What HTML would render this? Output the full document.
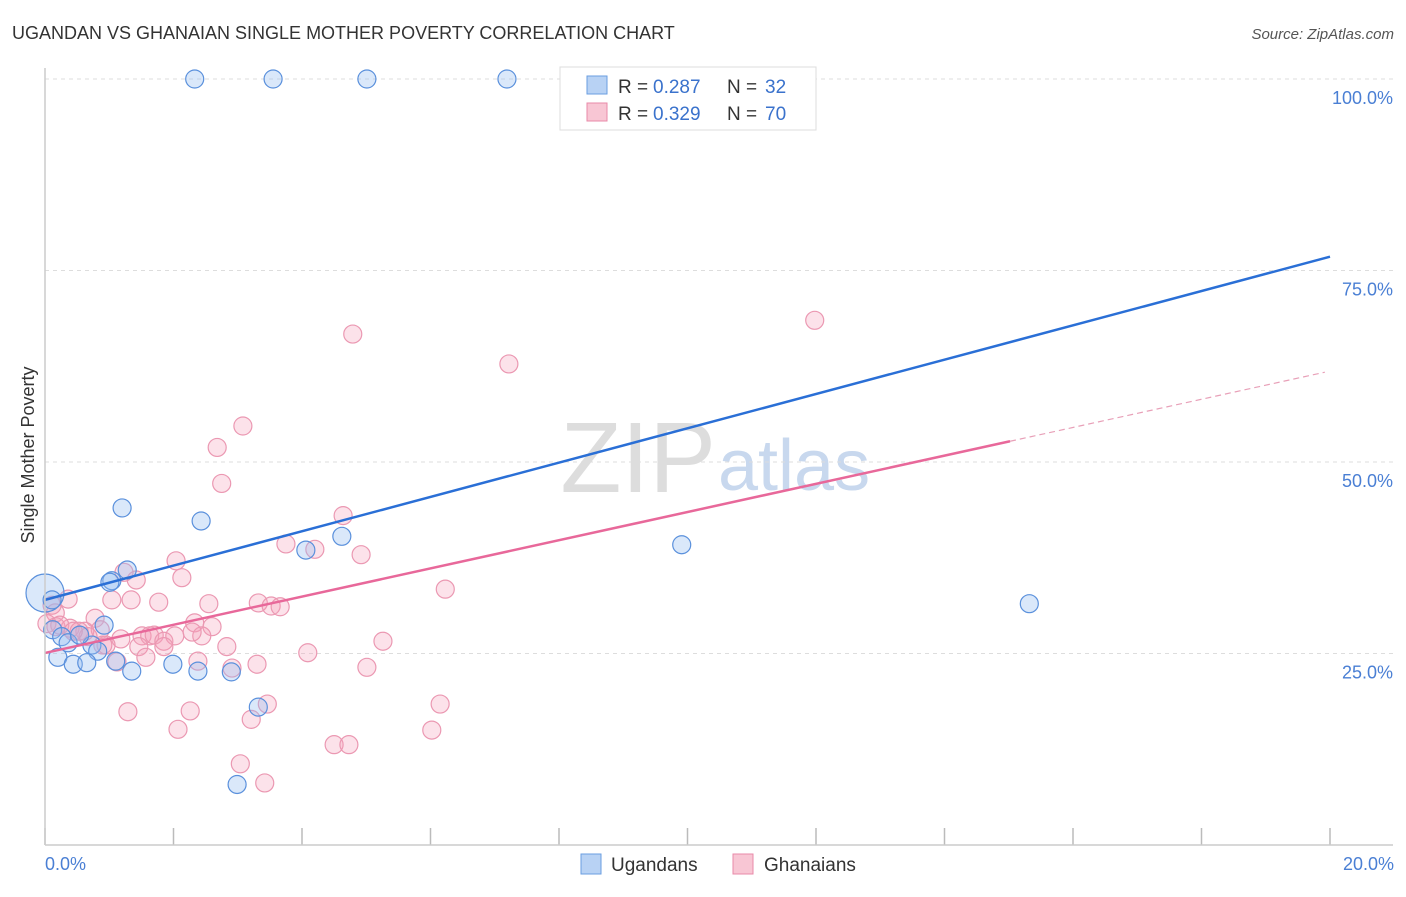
<!DOCTYPE html>
<html><head><meta charset="utf-8"><style>
body{margin:0;background:#fff;font-family:"Liberation Sans",sans-serif;}
svg text{font-family:"Liberation Sans",sans-serif;}
</style></head><body>
<svg id="chart" width="1406" height="892">
<text x="12" y="39" font-size="18" fill="#333">UGANDAN VS GHANAIAN SINGLE MOTHER POVERTY CORRELATION CHART</text>
<text x="1394" y="39" font-size="15" fill="#555" font-style="italic" text-anchor="end">Source: ZipAtlas.com</text>
<text x="716" y="492" font-size="100" fill="#ddd" text-anchor="end" font-family="Liberation Serif">ZIP</text>
<text x="718" y="490" font-size="72" fill="#c8d8ee">atlas</text>
<text x="34" y="455" font-size="18" fill="#333" transform="rotate(-90 34 455)" text-anchor="middle">Single Mother Poverty</text>
<g id="grid"></g><g id="ticks"></g><g id="marks"></g><g id="lines"></g>
<line x1="45" y1="68" x2="45" y2="845" stroke="#ccc" stroke-width="1.5"/>
<line x1="45" y1="845" x2="1393" y2="845" stroke="#ccc" stroke-width="1.5"/>
<text x="45" y="870" font-size="18" fill="#4a7fd4">0.0%</text>
<text x="1394" y="870" font-size="18" fill="#4a7fd4" text-anchor="end">20.0%</text>
<g>
<rect x="560" y="67" width="256" height="63" fill="#fff" stroke="#ddd"/>
<rect x="587" y="76" width="20" height="18" fill="#b8d2f4" stroke="#6a9ee0"/>
<rect x="587" y="103" width="20" height="18" fill="#f8c6d4" stroke="#e88aa8"/>
<text x="618" y="93" font-size="19" fill="#333">R =</text>
<text x="653" y="93" font-size="19" fill="#3a72cc">0.287</text>
<text x="727" y="93" font-size="19" fill="#333">N =</text>
<text x="765" y="93" font-size="19" fill="#3a72cc">32</text>
<text x="618" y="120" font-size="19" fill="#333">R =</text>
<text x="653" y="120" font-size="19" fill="#3a72cc">0.329</text>
<text x="727" y="120" font-size="19" fill="#333">N =</text>
<text x="765" y="120" font-size="19" fill="#3a72cc">70</text>
</g>
<g>
<rect x="581" y="854" width="20" height="20" fill="#b8d2f4" stroke="#6a9ee0"/>
<text x="611" y="871" font-size="19" fill="#333">Ugandans</text>
<rect x="733" y="854" width="20" height="20" fill="#f8c6d4" stroke="#e88aa8"/>
<text x="764" y="871" font-size="19" fill="#333">Ghanaians</text>
</g>
</svg>
<script>
const yTicks=[25,50,75,100];
const yTickLabels=["25.0%","50.0%","75.0%","100.0%"];
const xTicks=[0,2,4,6,8,10,12,14,16,18,20];
const ugX=[2.33,3.55,5.01,7.19,1.20,2.43,4.62,4.06,9.91,15.32,1.28,1.04,0,0.11,0.12,0.26,0.92,0.73,0.82,0.20,0.44,0.65,1.10,1.35,1.99,2.38,2.90,3.32,2.99,1.01,0.36,0.54];
const ugY=[100,100,100,100,44.0,42.3,40.3,38.5,39.2,31.5,35.9,34.5,32.9,32.0,28.1,27.2,28.7,26.1,25.3,24.5,23.6,23.8,24.0,22.7,23.6,22.7,22.6,18.0,7.9,34.3,26.4,27.4];
const ugR=[8,8,8,8,8,8,8,8,8,8,8,8,18,8,8,8,8,8,8,8,8,8,8,8,8,8,8,8,8,8,8,8];
const ghX=[11.98,4.79,7.22,3.08,2.68,2.75,4.64,3.75,4.20,4.92,2.04,2.13,1.42,1.23,6.23,1.04,1.34,1.77,2.55,3.32,3.52,3.66,0.36,0.11,0.16,0.78,0.03,0.17,0.39,0.62,0.86,1.18,1.51,1.63,1.70,1.85,2.02,2.33,2.60,2.44,2.29,1.46,1.57,1.85,1.12,2.83,4.09,5.26,3.30,2.38,2.91,5.01,1.29,2.26,6.15,3.46,2.07,3.21,6.02,4.50,4.73,3.04,3.42,0.53,0.67,0.95,0.23,0.44,0.90];
const ghY=[68.5,66.7,62.8,54.7,51.9,47.2,43.0,39.3,38.6,37.9,37.1,34.9,34.6,35.6,33.4,32.0,32.0,31.7,31.5,31.6,31.2,31.1,32.1,31.3,30.3,29.6,28.9,28.5,28.3,27.9,28.1,26.9,27.3,27.3,27.4,26.6,27.3,29.0,28.5,27.3,27.8,25.9,24.5,25.9,23.9,25.9,25.1,26.6,23.6,24.0,23.1,23.2,17.4,17.5,18.4,18.4,15.1,16.4,15.0,13.1,13.1,10.6,8.1,27.9,27.2,26.1,28.7,27.9,26.1];
const blueTrend=[32.0,76.8];
const pinkTrend=[25.07,1.84];
const X0=45,X1=1330,Y0=845,Y100=79;
const sx=v=>X0+(X1-X0)*v/20, sy=v=>Y0-(Y0-Y100)*v/100;
const NS="http://www.w3.org/2000/svg";
function mk(tag,at,parent){const e=document.createElementNS(NS,tag);for(const k in at)e.setAttribute(k,at[k]);document.getElementById(parent).appendChild(e);return e;}
yTicks.forEach((t,i)=>{
 const l=mk('line',{x1:45,x2:1393,y1:sy(t),y2:sy(t),stroke:'#ddd','stroke-dasharray':'4,4'},'grid');
 
 
 const tx=mk('text',{x:1393,y:sy(t)+25,'font-size':18,fill:'#4a7fd4','text-anchor':'end'},'grid');
 tx.textContent=yTickLabels[i];
 
 
});
xTicks.forEach(t=>{
 const l=mk('line',{x1:sx(t),x2:sx(t),y1:828,y2:845,stroke:'#bbb','stroke-width':1.5},'ticks');
 
 
});
ghX.forEach((x,i)=>{
 const c=mk('circle',{cx:sx(x),cy:sy(ghY[i]),r:9,fill:'rgba(244,160,186,0.3)',stroke:'#eb98b2','stroke-width':1.2},'marks');
 
 
});
ugX.forEach((x,i)=>{
 const c=mk('circle',{cx:sx(x),cy:sy(ugY[i]),r:ugR[i]+1,fill:'rgba(150,190,240,0.35)',stroke:'#5a90dc','stroke-width':1.2},'marks');
 
 
});
const bl=mk('line',{x1:sx(0),y1:sy(blueTrend[0]),x2:sx(20),y2:sy(blueTrend[1]),stroke:'#2a6fd6','stroke-width':2.5},'lines');


const pe=15.02;
const pl=mk('line',{x1:sx(0),y1:sy(pinkTrend[0]),x2:sx(pe),y2:sy(pinkTrend[0]+pinkTrend[1]*pe),stroke:'#e8689a','stroke-width':2.5},'lines');


const pd=mk('line',{x1:sx(pe),y1:sy(pinkTrend[0]+pinkTrend[1]*pe),x2:sx(19.92),y2:sy(pinkTrend[0]+pinkTrend[1]*19.92),stroke:'#e8a0b8','stroke-width':1.2,'stroke-dasharray':'6,4'},'lines');


</script>
</body></html>
